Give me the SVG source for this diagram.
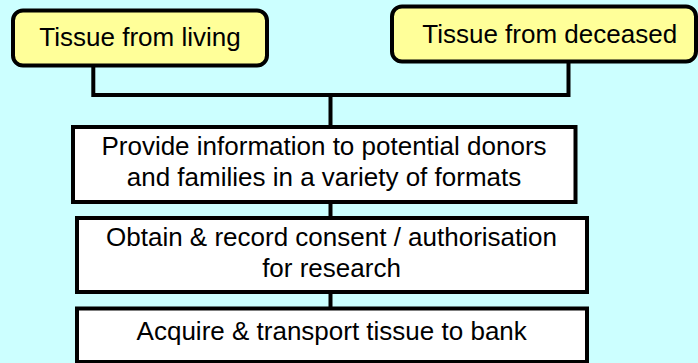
<svg xmlns="http://www.w3.org/2000/svg" width="698" height="363" viewBox="0 0 698 363">
<style>
.src{fill:#FFFF99;stroke:#000;stroke-width:4}
.step{fill:#FFFFFF;stroke:#000;stroke-width:4}
.conn{fill:none;stroke:#000;stroke-width:4;stroke-linecap:square}
text{font-family:"Liberation Sans",Arial,sans-serif;font-size:26px;fill:#000;text-anchor:middle}
</style>
<rect x="0" y="0" width="698" height="363" fill="#CCFFFF"/>
<g id="connectors">
<path class="conn" d="M93.3,66 V95 H568.5 V62"/>
<path class="conn" d="M330.5,95 V126"/>
<path class="conn" d="M330.5,203 V217"/>
<path class="conn" d="M330.5,293 V307"/>
</g>
<g id="living">
<rect class="src" x="13" y="10.5" width="254" height="55" rx="10" ry="10"/>
<text x="140" y="46">Tissue from living</text>
</g>
<g id="deceased">
<rect class="src" x="392" y="6.5" width="304" height="55" rx="10" ry="10"/>
<text x="549.7" y="43">Tissue from deceased</text>
</g>
<g id="inform">
<rect class="step" x="73" y="127" width="502.5" height="75"/>
<text x="324" y="155">Provide information to potential donors</text>
<text x="324" y="186">and families in a variety of formats</text>
</g>
<g id="consent">
<rect class="step" x="77" y="218" width="510" height="74"/>
<text x="331.5" y="246">Obtain &amp; record consent / authorisation</text>
<text x="331.5" y="277">for research</text>
</g>
<g id="acquire">
<rect class="step" x="77" y="308.5" width="510" height="53.5"/>
<text x="331.7" y="340">Acquire &amp; transport tissue to bank</text>
</g>
</svg>
